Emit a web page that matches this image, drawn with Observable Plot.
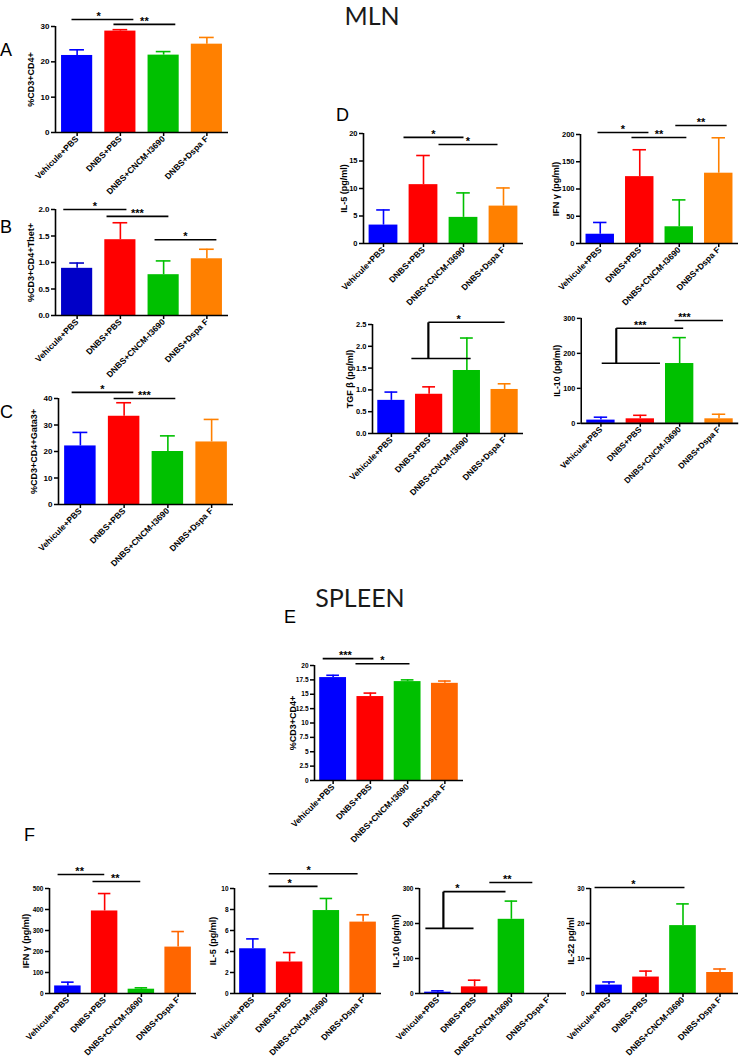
<!DOCTYPE html>
<html><head><meta charset="utf-8">
<script src="https://cdn.jsdelivr.net/npm/d3@7"></script>
<script src="https://cdn.jsdelivr.net/npm/@observablehq/plot@0.6"></script>
<style>
body{margin:0;background:#fff;overflow:hidden}
#root{position:relative;width:746px;height:1057px;background:#fff;overflow:hidden}
.pl{position:absolute}
.hd{position:absolute;font-family:Lato,"Liberation Sans",sans-serif;font-size:25px;color:#1a1a1a;line-height:1.2;text-align:center;width:200px}
.lt{position:absolute;font-family:"Liberation Sans",Arial,sans-serif;font-size:18px;line-height:1;color:#000}
</style></head><body><div id="root"></div>
<script>
// ---- data ----
const groups = ["Vehicule+PBS", "DNBS+PBS", "DNBS+CNCM-I3690", "DNBS+Dspa F"];
const colorsMLN = ["#0000ff", "#ff0000", "#00c000", "#ff8000"];
const colorsB = ["#0000c8", "#ff0000", "#00c000", "#ff8000"];
const colorsSpleen = ["#0000ff", "#ff0000", "#00c000", "#ff6600"];

// significance: [x1 index, x2 index, y value, label, label x]
// brackets: [x index, y low, y high]
const A_mean = [21.8, 28.7, 21.9, 25.0];
const A_err = [23.4, 29.1, 22.9, 26.9];
const A_sig = [[-0.13, 1.30, 32.0, "*", 0.5], [0.84, 2.27, 30.6, "**"]];
const A_ticks = [0, 10, 20, 30];

const B_mean = [0.89, 1.43, 0.77, 1.07];
const B_err = [0.99, 1.75, 1.03, 1.25];
const B_sig = [[-0.32, 1.14, 2.0, "*"], [0.68, 2.11, 1.87, "***"], [1.79, 3.22, 1.43, "*"]];
const B_ticks = [0, 0.5, 1, 1.5, 2];

const C_mean = [22.1, 33.3, 20.0, 23.6];
const C_err = [27.2, 38.4, 25.9, 32.1];
const C_sig = [[-0.2, 1.21, 42.3, "*"], [0.76, 2.17, 40, "***"]];
const C_ticks = [0, 10, 20, 30, 40];

const D1_mean = [3.35, 10.7, 4.75, 6.8];
const D1_err = [6.1, 16.0, 9.2, 10.1];
const D1_sig = [[0.5, 2.0, 19.3, "*"], [1.375, 2.85, 18.0, "*"]];
const D1_ticks = [0, 5, 10, 15, 20];

const D2_mean = [17, 122.7, 30.7, 129];
const D2_err = [38.6, 172, 80, 194];
const D2_sig = [[-0.07, 1.22, 203.7, "*"], [0.79, 2.18, 194.5, "**"], [1.9, 3.2, 216.5, "**"]];
const D2_ticks = [0, 50, 100, 150, 200];

const D3_mean = [0.76, 0.90, 1.445, 1.01];
const D3_err = [0.95, 1.07, 2.19, 1.14];
const D3_sig = [[0.53, 2.1, 1.72, ""], [0.98, 3.0, 2.55, "*", 1.78]];
const D3_brackets = [[0.98, 1.72, 2.55]];
const D3_ticks = [0, 0.5, 1, 1.5, 2, 2.5];

const D4_mean = [9.3, 13, 171, 13];
const D4_err = [17.6, 23, 245, 26];
const D4_sig = [[0.02, 1.5, 172, ""], [0.39, 2.09, 272, "***", 1.0], [1.87, 3.1, 294, "***", 2.12]];
const D4_brackets = [[0.39, 172, 272]];
const D4_ticks = [0, 100, 200, 300];

const E_mean = [17.9, 14.6, 17.2, 16.9];
const E_err = [18.3, 15.2, 17.5, 17.3];
const E_sig = [[-0.28, 1.08, 21.2, "***", 0.33], [0.6, 2.05, 20.3, "*"]];
const E_ticks = [0, 2.5, 5, 7.5, 10, 12.5, 15, 17.5, 20];

const F1_mean = [36, 393, 20.5, 221];
const F1_err = [54, 476, 27, 295];
const F1_sig = [[-0.28, 0.99, 567, "**", 0.32], [0.67, 1.97, 533, "**", 1.29]];
const F1_ticks = [0, 100, 200, 300, 400, 500];

const F2_mean = [4.26, 3.0, 7.9, 6.8];
const F2_err = [5.2, 3.9, 9.05, 7.5];
const F2_sig = [[0.43, 1.76, 10.2, "*", 1.0], [0.43, 2.85, 11.4, "*", 1.52]];
const F2_ticks = [0, 2, 4, 6, 8, 10];

const F3_mean = [3.8, 19, 212, null];
const F3_err = [7.6, 38, 264, null];
const F3_sig = [[-0.34, 0.97, 186, ""], [0.15, 1.84, 291, "*", 0.53], [1.4, 2.57, 317, "**", 1.89]];
const F3_brackets = [[0.15, 186, 291]];
const F3_ticks = [0, 100, 200, 300];

const F4_mean = [2.4, 4.7, 19.4, 6.0];
const F4_err = [3.3, 6.4, 25.6, 7.0];
const F4_sig = [[-0.39, 2.04, 30.3, "*", 0.66]];
const F4_ticks = [0, 10, 20, 30];

// ---- layout (pixel positions of each panel's axes) ----
const fmt1 = d3.format(".1f");
const panels = [
  {mean: A_mean, err: A_err, sig: A_sig, ticks: A_ticks, colors: colorsMLN, label: "%CD3+CD4+", axisX: 55, axisEnd: 228, y0: 132, yTop: 26, labelX: 31},
  {mean: B_mean, err: B_err, sig: B_sig, ticks: B_ticks, colors: colorsB, label: "%CD3+CD4+Tbet+", fmt: fmt1, axisX: 55, axisEnd: 228, y0: 315, yTop: 209, labelX: 31},
  {mean: C_mean, err: C_err, sig: C_sig, ticks: C_ticks, colors: colorsMLN, label: "%CD3+CD4+Gata3+", axisX: 58, axisEnd: 233, y0: 504, yTop: 398, labelX: 34},
  {mean: D1_mean, err: D1_err, sig: D1_sig, ticks: D1_ticks, colors: colorsMLN, label: "IL-5 (pg/ml)", axisX: 363, axisEnd: 523, y0: 243, yTop: 133, labelX: 344, fs: 7.5},
  {mean: D2_mean, err: D2_err, sig: D2_sig, ticks: D2_ticks, colors: colorsMLN, label: "IFN γ (pg/ml)", axisX: 580, axisEnd: 738, y0: 243, yTop: 134, labelX: 556, fs: 7.5},
  {mean: D3_mean, err: D3_err, sig: D3_sig, brackets: D3_brackets, ticks: D3_ticks, colors: colorsMLN, label: "TGF β (pg/ml)", fmt: fmt1, axisX: 372, axisEnd: 523, y0: 433, yTop: 324, labelX: 350, fs: 7.5},
  {mean: D4_mean, err: D4_err, sig: D4_sig, brackets: D4_brackets, ticks: D4_ticks, colors: colorsMLN, label: "IL-10 (pg/ml)", axisX: 582, axisEnd: 744, y0: 427, yTop: 319, labelX: 557, fs: 7.5},
  {mean: E_mean, err: E_err, sig: E_sig, ticks: E_ticks, colors: colorsSpleen, label: "%CD3+CD4+", fmt: d => String(d), axisX: 314, axisEnd: 463, y0: 780, yTop: 665, labelX: 293, fs: 6.5},
  {mean: F1_mean, err: F1_err, sig: F1_sig, ticks: F1_ticks, colors: colorsSpleen, label: "IFN γ (pg/ml)", axisX: 49, axisEnd: 196, y0: 993, yTop: 888, labelX: 26, fs: 6.5},
  {mean: F2_mean, err: F2_err, sig: F2_sig, ticks: F2_ticks, colors: colorsSpleen, label: "IL-5 (pg/ml)", axisX: 234, axisEnd: 381, y0: 993, yTop: 888, labelX: 213, fs: 6.5},
  {mean: F3_mean, err: F3_err, sig: F3_sig, brackets: F3_brackets, ticks: F3_ticks, colors: colorsSpleen, label: "IL-10 (pg/ml)", axisX: 419, axisEnd: 566, y0: 993, yTop: 888, labelX: 396, fs: 6.5},
  {mean: F4_mean, err: F4_err, sig: F4_sig, ticks: F4_ticks, colors: colorsSpleen, label: "IL-22 pg/ml", axisX: 590, axisEnd: 738, y0: 993, yTop: 888, labelX: 571, fs: 6.5}
];

const root = document.getElementById("root");

function panel(p) {
  const mL = 45, mR = 8, mT = 40, mB = 80;
  const W = p.axisEnd - p.axisX, H = p.y0 - p.yTop;
  const yMax = p.ticks[p.ticks.length - 1];
  const data = groups.map((g, i) => ({i, g, v: p.mean[i], e: p.err[i], c: p.colors[i]})).filter(d => d.v != null);
  const fs = p.fs || 8;
  const chart = Plot.plot({
    width: mL + W + mR, height: mT + H + mB,
    marginLeft: mL, marginRight: mR, marginTop: mT, marginBottom: mB,
    x: {type: "linear", domain: [-0.5, 3.5]},
    y: {domain: [0, yMax]},
    style: {fontFamily: "'Liberation Sans', Arial, sans-serif", fontWeight: "bold", background: "transparent", overflow: "visible", color: "#000"},
    marks: [
      Plot.rectY(data, {x1: d => d.i - 0.36, x2: d => d.i + 0.36, y: "v", fill: "c"}),
      Plot.ruleX(data, {x: "i", y1: "v", y2: "e", stroke: "c", strokeWidth: 1.6}),
      Plot.ruleY(data, {y: "e", x1: d => d.i - 0.17, x2: d => d.i + 0.17, stroke: "c", strokeWidth: 1.6}),
      Plot.axisY({ticks: p.ticks, tickFormat: p.fmt || (d => String(d)), tickSize: 4, tickPadding: 2, fontSize: fs, label: null, strokeWidth: 1.5}),
      Plot.axisX({ticks: [0, 1, 2, 3], tickFormat: i => groups[i], tickRotate: -45, tickSize: 4, tickPadding: 1, fontSize: 8.5, label: null, strokeWidth: 1.5}),
      Plot.ruleX([-0.5], {y1: 0, y2: yMax, strokeWidth: 1.6}),
      Plot.ruleY([0], {x1: -0.5, x2: 3.5, strokeWidth: 1.6}),
      Plot.text([p.label], {frameAnchor: "left", dx: -(p.axisX - p.labelX), rotate: -90, textAnchor: "middle", fontSize: 9}),
      Plot.link(p.sig, {x1: d => d[0], x2: d => d[1], y1: d => d[2], y2: d => d[2], strokeWidth: 1.6}),
      Plot.link(p.brackets || [], {x1: d => d[0], x2: d => d[0], y1: d => d[1], y2: d => d[2], strokeWidth: 2.2}),
      Plot.text(p.sig.filter(d => d[3]), {x: d => d[4] ?? (d[0] + d[1]) / 2, y: d => d[2], text: d => d[3], dy: -3, fontSize: 11})
    ]
  });
  const div = document.createElement("div");
  div.className = "pl";
  div.style.left = (p.axisX - mL) + "px";
  div.style.top = (p.yTop - mT) + "px";
  div.appendChild(chart);
  root.appendChild(div);
}
panels.forEach(panel);

function addText(cls, txt, left, top) {
  const d = document.createElement("div");
  d.className = cls; d.textContent = txt;
  d.style.left = left + "px"; d.style.top = top + "px";
  root.appendChild(d);
}
addText("hd", "MLN", 272, 0);
addText("hd", "SPLEEN", 260, 582);
addText("lt", "A", 0, 41);
addText("lt", "B", 0, 218);
addText("lt", "C", 0, 403);
addText("lt", "D", 336, 106);
addText("lt", "E", 284, 608);
addText("lt", "F", 24, 826);
</script></body></html>
